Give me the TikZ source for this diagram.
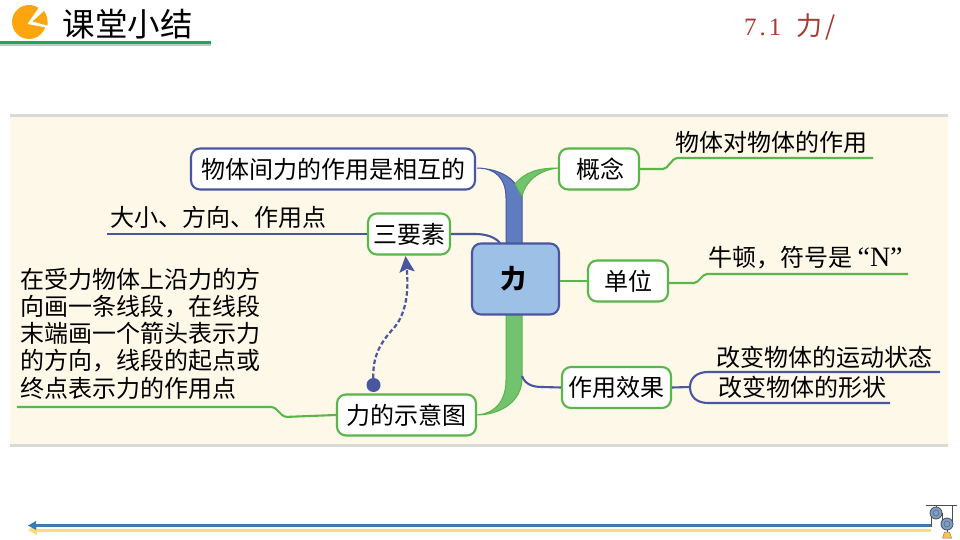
\documentclass[tikz,border=0pt]{standalone}
\usepackage{fontspec}
\setmainfont{Liberation Serif}
\newfontfamily\cjk{Noto Sans CJK SC}
\usetikzlibrary{arrows.meta,calc}
\definecolor{panelbg}{HTML}{FDF8E8}
\definecolor{panelrule}{HTML}{D9D9D5}
\definecolor{mgreen}{HTML}{5AB54A}
\definecolor{mgreenfill}{HTML}{72C26F}
\definecolor{mblue}{HTML}{4A56A0}
\definecolor{mbluefill}{HTML}{5F7DBE}
\definecolor{coreblue}{HTML}{9DC0E6}
\definecolor{titlegreen}{HTML}{1FA65A}
\definecolor{pieorange}{HTML}{FDA50F}
\definecolor{titlered}{HTML}{A83A32}
\definecolor{trackblue}{HTML}{3F78B5}
\definecolor{trackyellow}{HTML}{FBDC7A}
\tikzset{
  x=1pt,y=-1pt,
  txt/.style={font=\cjk\fontsize{24}{27.3}\selectfont,text=black,inner sep=0pt,align=left},
  gbox/.style={draw=mgreen,fill=white,line width=2.1pt,rounded corners=9pt,minimum height=41pt,inner sep=0pt,font=\cjk\fontsize{24}{28}\selectfont},
  bbox/.style={gbox,draw=mblue},
  gline/.style={draw=mgreen,line width=2.1pt},
  bline/.style={draw=mblue,line width=2.1pt},
}
\begin{document}
\begin{tikzpicture}
\useasboundingbox (0,0) rectangle (960,540);
\fill[white] (0,0) rectangle (960,540);
% header
\fill[gray!45] (0,44) rectangle (211,46);
\fill[titlegreen] (0,41) rectangle (211,44.5);
\fill[pieorange] (29,22) circle (17);
\fill[white] (27.5,24) -- (40,6) -- (52,6) -- (52,28) -- (46,27.5) -- cycle;
\fill[pieorange] (32.5,21.5) -- (44,11) .. controls (47,15) and (48,20) .. (47.5,25.5) -- cycle;
\node[font=\cjk\fontsize{32.5}{36}\selectfont,inner sep=0pt] (title) at (127.5,24.5) {课堂小结};
\node[font=\cjk\fontsize{26}{28}\selectfont,text=titlered,inner sep=0pt,anchor=west] (sect) at (744,27) {{\rmfamily\fontsize{25}{28}\selectfont 7\hspace{3pt}.\hspace{3pt}1}\hspace{15pt}力\hspace{3pt}/};
% panel
\fill[panelbg] (10,116) rectangle (948,445);
\fill[panelrule] (10,114.5) rectangle (948,117.5);
\fill[panelrule] (10,443.5) rectangle (948,446.5);
% thick branches
\path[draw=mblue,line width=1pt,fill=mbluefill] (477,168) .. controls (495,168) and (506,178) .. (506,198) -- (506,244) -- (522,244) -- (522,196) .. controls (516,178) and (500,169) .. (477,168) -- cycle;
\path[draw=mgreen,line width=1pt,fill=mgreenfill] (558,168) .. controls (538,168) and (525,172) .. (515,184) -- (522,196) .. controls (526,180) and (540,170) .. (558,168) -- cycle;
\path[draw=mgreen,line width=1pt,fill=mgreenfill] (506,314) -- (506,380) .. controls (506,402) and (494,414) .. (476,415) .. controls (500,415) and (522,402) .. (522,378) -- (522,314) -- cycle;
% nodes
\node[bbox,minimum width=284pt] (mutual) at (333,169) {物体间力的作用是相互的};
\node[gbox,minimum width=80pt] (concept) at (599,169) {\hspace*{3pt}概念};
\node[gbox,minimum width=82pt] (three) at (409,234) {三要素};
\node[draw=mblue,fill=coreblue,line width=2.1pt,rounded corners=9pt,minimum width=87pt,minimum height=71pt,inner sep=0pt,font=\cjk\bfseries\fontsize{26}{30}\selectfont] (core) at (515.5,279) {力\hspace*{4pt}};
\node[gbox,minimum width=80pt] (unit) at (628,281) {单位};
\node[gbox,minimum width=109pt] (effect) at (616.5,387.5) {作用效果};
\node[gbox,minimum width=139pt] (sketch) at (406.5,415) {力的示意图};
% texts
\node[txt,anchor=west] (t1) at (675,142) {物体对物体的作用};
\node[txt,anchor=west] (t2) at (708,258) {牛顿，符号是 {\rmfamily\fontsize{28}{28}\selectfont “N”}};
\node[txt,anchor=west] (t3) at (110,217) {大小、方向、作用点};
\node[txt,anchor=west] (t4) at (716,357) {改变物体的运动状态};
\node[txt,anchor=west] (t5) at (718,387) {改变物体的形状};
\node[txt,anchor=north west] (t6) at (20,267.5) {在受力物体上沿力的方\\向画一条线段，在线段\\末端画一个箭头表示力\\的方向，线段的起点或\\终点表示力的作用点};
% thin connectors
\coordinate (c1a) at (665,169); \coordinate (c1b) at (675,158); \coordinate (c1c) at (873,158);
\draw[gline,rounded corners=2pt] (concept.east) -- (c1a) -- (c1b) -- (c1c);
\coordinate (c2a) at (696,283); \coordinate (c2b) at (705,274); \coordinate (c2c) at (908,274);
\draw[gline,rounded corners=2pt] (unit.east |- c2a) -- (c2a) -- (c2b) -- (c2c);
\draw[gline] (core.east |- unit.west) -- (unit.west);
\coordinate (c3a) at (107,234);
\draw[bline] (three.west) -- (c3a);
\coordinate (c3b) at (500,243);
\draw[bline] (three.east) -- (475,234) .. controls (486,234) and (495,237) .. (c3b);
\coordinate (c4a) at (522,376);
\draw[bline] (c4a) .. controls (525,384) and (532,387) .. (542,387) -- (effect.west);
\coordinate (c5a) at (940,372); \coordinate (c5b) at (890,403); \coordinate (c5m) at (690,387);
\draw[bline] (effect.east) -- (c5m);
\draw[bline] (c5a) -- (708,372) .. controls (697,372) and (690,378) .. (c5m) .. controls (690,397) and (697,403) .. (708,403) -- (c5b);
\coordinate (c6a) at (17,407); \coordinate (c6b) at (274,407); \coordinate (c6c) at (284,417);
\draw[gline,rounded corners=3pt] (c6a) -- (c6b) -- (c6c) -- (sketch.west);
% dashed arrow
\fill[mblue] (373.5,385) circle (7) coordinate (dot);
\draw[mblue,line width=2.2pt,dash pattern=on 4.5pt off 2.5pt,-{Stealth[length=16pt,width=15pt,inset=3pt]}] (dot) .. controls (372,362) and (376,348) .. (392,330) .. controls (406,316) and (409,292) .. (405.5,256);
% footer
\draw[trackyellow,line width=3pt] (36,530.5) -- (931,530.5);
\fill[trackyellow] (28,530) -- (37,525) -- (37,535) -- cycle;
\draw[trackblue,line width=2.5pt] (34,525.5) -- (931,525.5);
\fill[trackblue] (28,525.5) -- (36,521) -- (36,530) -- cycle;
\draw[black!70,line width=0.8pt] (926,505) -- (957,505);
\draw[black!70,line width=0.8pt] (936,505) -- (936,508) (952.5,505) -- (952.5,524);
\draw[black!70,line width=0.8pt] (931,513) -- (931,527);
\draw[black!70,line width=0.8pt] (942,513) -- (942,524);
\foreach \p/\q in {936/513,947/524}{
  \fill[trackblue!70!white,draw=black!70,line width=0.8pt] (\p,\q) circle (6);
  \draw[black!60,line width=0.6pt] (\p,\q) circle (3);
}
\draw[black!70,line width=0.6pt] (947,530) -- (947,532);
\fill[trackyellow!70!orange,draw=black!50,line width=0.5pt] (944.5,532) -- (949.5,532) -- (951.5,538) -- (942.5,538) -- cycle;
\end{tikzpicture}
\end{document}
